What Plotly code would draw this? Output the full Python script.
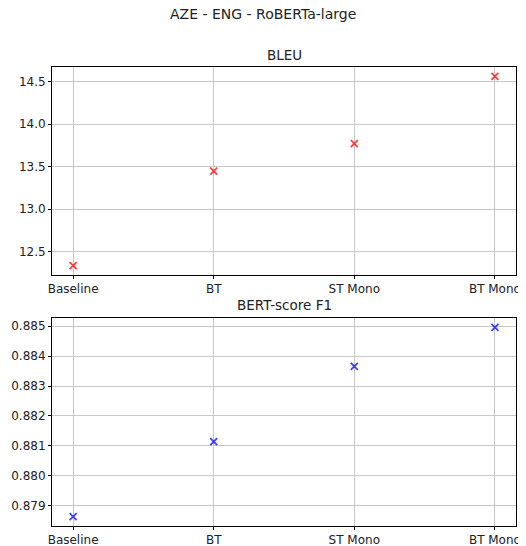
import plotly.graph_objects as go

categories = ["Baseline", "BT", "ST Mono", "BT Mono"]
bleu = [12.336, 13.447, 13.772, 14.562]
bert_f1 = [0.87863, 0.881135, 0.88366, 0.88496]

OFF = 8  # page body margin
W, H = 526 - OFF, 546 - OFF
ml, mr, mt, mb = 52 - OFF, 10, 67 - OFF, 20
ph = H - mt - mb

def py(yp):  # page pixel y -> paper fraction
    return (546 - mb - yp) / ph

def px(xp):
    return (xp - 52) / (W - ml - mr)

top_dom = [py(275), 1.0]
bot_dom = [0.0, py(318)]

fig = go.Figure()
fig.add_trace(go.Scatter(x=list(range(len(categories))), y=bleu, mode="markers",
                         marker=dict(symbol="x-thin", size=7, line=dict(color="rgba(255,0,0,0.75)", width=1.8)),
                         xaxis="x", yaxis="y", showlegend=False))
fig.add_trace(go.Scatter(x=list(range(len(categories))), y=bert_f1, mode="markers",
                         marker=dict(symbol="x-thin", size=7, line=dict(color="rgba(0,0,255,0.75)", width=1.8)),
                         xaxis="x2", yaxis="y2", showlegend=False))

def pad(vals):
    lo, hi = min(vals), max(vals)
    m = (hi - lo) * 0.05
    return [lo - m, hi + m]

axcommon = dict(showline=True, linecolor="black", linewidth=1, mirror=True,
                ticks="outside", ticklen=3, tickcolor="black", automargin=False,
                showgrid=True, gridcolor="#c8c8c8", gridwidth=1, zeroline=False,
                tickfont=dict(family="DejaVu Sans", size=12, color="#222"))

anns = []
for text, xp, yp, sz in [("AZE - ENG - RoBERTa-large", 263, 14, 14),
                         ("BLEU", 284, 55, 13.5),
                         ("BERT-score F1", 284, 305, 13.5)]:
    anns.append(dict(text=text, x=px(xp), y=py(yp), xref="paper", yref="paper",
                     xanchor="center", yanchor="middle", showarrow=False,
                     font=dict(family="DejaVu Sans", size=sz, color="#222")))

fig.update_layout(
    width=W, height=H,
    margin=dict(l=ml, r=mr, t=mt, b=mb, autoexpand=False),
    plot_bgcolor="white", paper_bgcolor="white",
    xaxis=dict(domain=[0, 1], anchor="y", range=[-0.15, 3.15],
               tickvals=list(range(len(categories))), ticktext=categories, **axcommon),
    yaxis=dict(domain=top_dom, anchor="x", range=pad(bleu),
               tickvals=[12.5, 13.0, 13.5, 14.0, 14.5], tickformat=".1f", **axcommon),
    xaxis2=dict(domain=[0, 1], anchor="y2", range=[-0.15, 3.15],
                tickvals=list(range(len(categories))), ticktext=categories, **axcommon),
    yaxis2=dict(domain=bot_dom, anchor="x2", range=pad(bert_f1),
                tickvals=[0.879, 0.880, 0.881, 0.882, 0.883, 0.884, 0.885], tickformat=".3f", **axcommon),
    annotations=anns,
)

fig.write_html("out.html")
